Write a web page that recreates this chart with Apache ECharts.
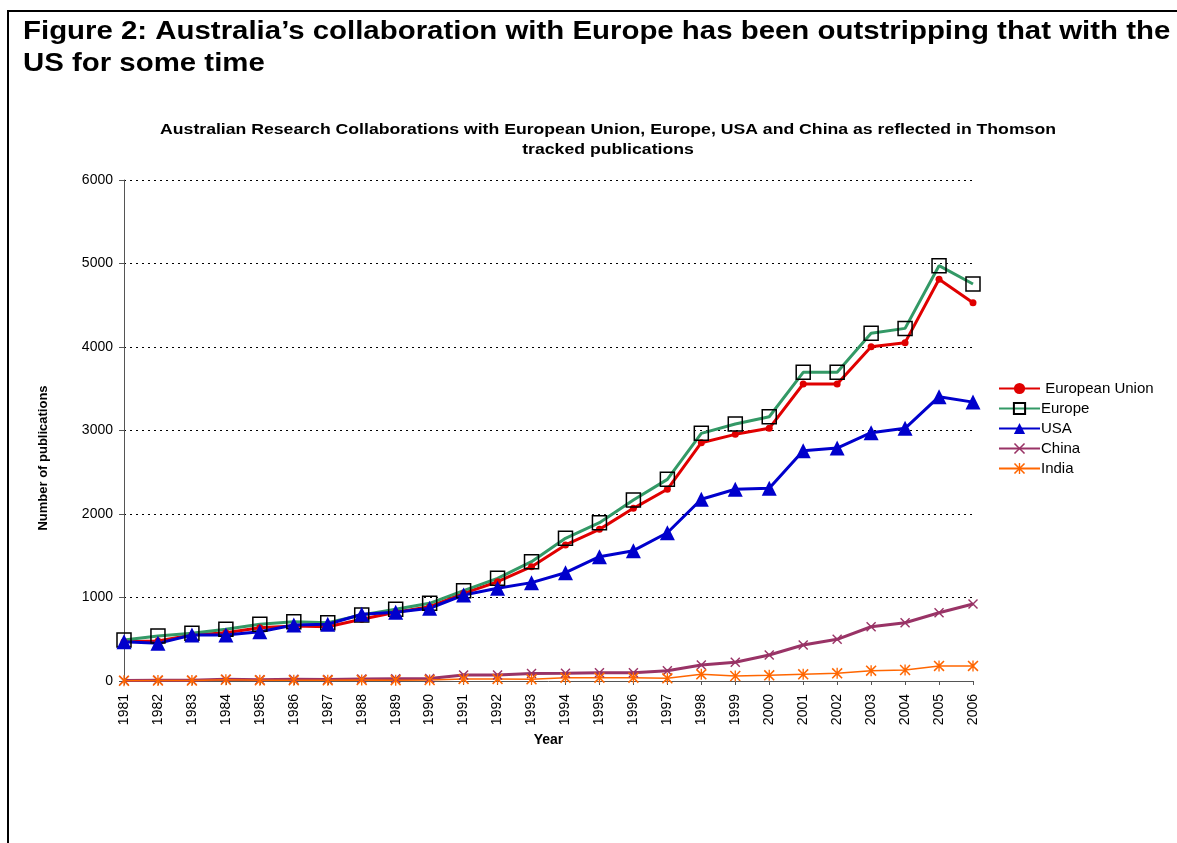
<!DOCTYPE html>
<html>
<head>
<meta charset="utf-8">
<script src="https://cdn.jsdelivr.net/npm/echarts@6/dist/echarts.min.js"></script>
<style>
html,body{margin:0;padding:0;background:#fff;}
#chart{width:1177px;height:843px;}
</style>
</head>
<body>
<div id="chart"></div>
<script>
const years = ['1981','1982','1983','1984','1985','1986','1987','1988','1989','1990','1991','1992','1993','1994','1995','1996','1997','1998','1999','2000','2001','2002','2003','2004','2005','2006'];
const euValues = [470, 480, 551, 579, 638, 659, 650, 739, 823, 890, 1050, 1189, 1369, 1629, 1816, 2068, 2296, 2854, 2954, 3026, 3557, 3557, 4004, 4052, 4811, 4530];
const europeValues = [491, 539, 571, 619, 679, 710, 698, 790, 859, 930, 1082, 1230, 1429, 1709, 1896, 2168, 2415, 2966, 3078, 3165, 3697, 3697, 4164, 4223, 4974, 4754];
const usaValues = [470, 451, 551, 551, 590, 671, 679, 799, 823, 871, 1030, 1110, 1178, 1297, 1489, 1561, 1776, 2176, 2296, 2308, 2758, 2790, 2974, 3026, 3405, 3340];
const chinaValues = [5, 8, 10, 20, 15, 20, 18, 25, 28, 30, 72, 72, 90, 92, 100, 100, 124, 192, 224, 311, 431, 499, 650, 698, 818, 922];
const indiaValues = [3, 5, 5, 15, 8, 10, 8, 12, 10, 12, 25, 25, 20, 40, 40, 40, 32, 80, 60, 68, 80, 92, 124, 132, 180, 180];
const seriesNames = ['European Union', 'Europe', 'USA', 'China', 'India'];
const yMin = 0, yMax = 6000, yStep = 1000;

const FONT = '"Liberation Sans", Arial, sans-serif';
const X_PATH = 'path://M0,1 L1,0 L5,4 L9,0 L10,1 L6,5 L10,9 L9,10 L5,6 L1,10 L0,9 L4,5 Z';
const STAR_PATH = 'path://M0,1 L1,0 L5,4 L9,0 L10,1 L6,5 L10,9 L9,10 L5,6 L1,10 L0,9 L4,5 Z M4.4,0 L5.6,0 L5.6,10 L4.4,10 Z';

const chart = echarts.init(document.getElementById('chart'), null, {renderer: 'canvas'});
chart.setOption({
  animation: false,
  backgroundColor: '#ffffff',
  textStyle: {fontFamily: FONT},
  graphic: [
    {type: 'rect', shape: {x: 8, y: 11, width: 1300, height: 1000}, style: {fill: null, stroke: '#000', lineWidth: 2}, silent: true},
    {type: 'text', x: 23, y: 16, scaleX: 1.176, style: {text: 'Figure 2: Australia\u2019s collaboration with Europe has been outstripping that with the\nUS for some time', font: 'bold 25px ' + FONT, fill: '#000', lineHeight: 32, verticalAlign: 'top'}},
    {type: 'text', x: 608, y: 120, scaleX: 1.26, style: {text: 'Australian Research Collaborations with European Union, Europe, USA and China as reflected in Thomson\ntracked publications', font: 'bold 14px ' + FONT, fill: '#000', align: 'center', lineHeight: 20}},
    {type: 'text', x: 43, y: 458, rotation: Math.PI / 2, style: {text: 'Number of publications', font: 'bold 13px ' + FONT, fill: '#000', align: 'center', verticalAlign: 'middle'}}
  ],
  legend: {
    orient: 'vertical',
    left: 993,
    top: 376,
    itemWidth: 41,
    itemHeight: 14,
    itemGap: 5,
    data: seriesNames,
    formatter: function (n) { return n === 'European Union' ? ' ' + n : n; },
    textStyle: {fontSize: 15, color: '#000', fontFamily: FONT, padding: [0, 0, 0, -4]}
  },
  grid: {left: 124, right: 204, top: 180, bottom: 162, containLabel: false},
  xAxis: {
    type: 'category',
    boundaryGap: false,
    data: years,
    name: 'Year',
    nameLocation: 'middle',
    nameGap: 52,
    nameTextStyle: {fontWeight: 'bold', fontSize: 14, color: '#000', fontFamily: FONT},
    axisLine: {lineStyle: {color: '#555', width: 1}},
    axisTick: {show: true, length: 4, lineStyle: {color: '#555'}},
    axisLabel: {rotate: 90, fontSize: 14, color: '#000', margin: 13, fontFamily: FONT},
    splitLine: {show: false}
  },
  yAxis: {
    type: 'value',
    min: yMin,
    max: yMax,
    interval: yStep,
    axisLine: {show: true, lineStyle: {color: '#555', width: 1}},
    axisTick: {show: true, length: 5, lineStyle: {color: '#555'}},
    axisLabel: {fontSize: 14, color: '#000', margin: 11, fontFamily: FONT, formatter: function (v) { return String(v); }},
    splitLine: {show: true, lineStyle: {color: '#000', width: 1, type: [2, 4]}}
  },
  series: [
    {name: seriesNames[0], type: 'line', data: euValues, symbol: 'circle', symbolSize: 7,
     itemStyle: {color: '#E00000'}, lineStyle: {color: '#E00000', width: 3}},
    {name: seriesNames[1], type: 'line', data: europeValues, symbol: 'rect', symbolSize: 14,
     itemStyle: {color: 'rgba(255,255,255,0)', borderColor: '#000', borderWidth: 1.5},
     lineStyle: {color: '#339966', width: 3}},
    {name: seriesNames[2], type: 'line', data: usaValues, symbol: 'triangle', symbolSize: 15,
     itemStyle: {color: '#0000CC'}, lineStyle: {color: '#0000CC', width: 3}},
    {name: seriesNames[3], type: 'line', data: chinaValues, symbol: X_PATH, symbolSize: 10,
     itemStyle: {color: '#993366'}, lineStyle: {color: '#993366', width: 3}},
    {name: seriesNames[4], type: 'line', data: indiaValues, symbol: STAR_PATH, symbolSize: 11,
     itemStyle: {color: '#FF6600'}, lineStyle: {color: '#FF6600', width: 1.5}}
  ]
});
</script>
</body>
</html>
